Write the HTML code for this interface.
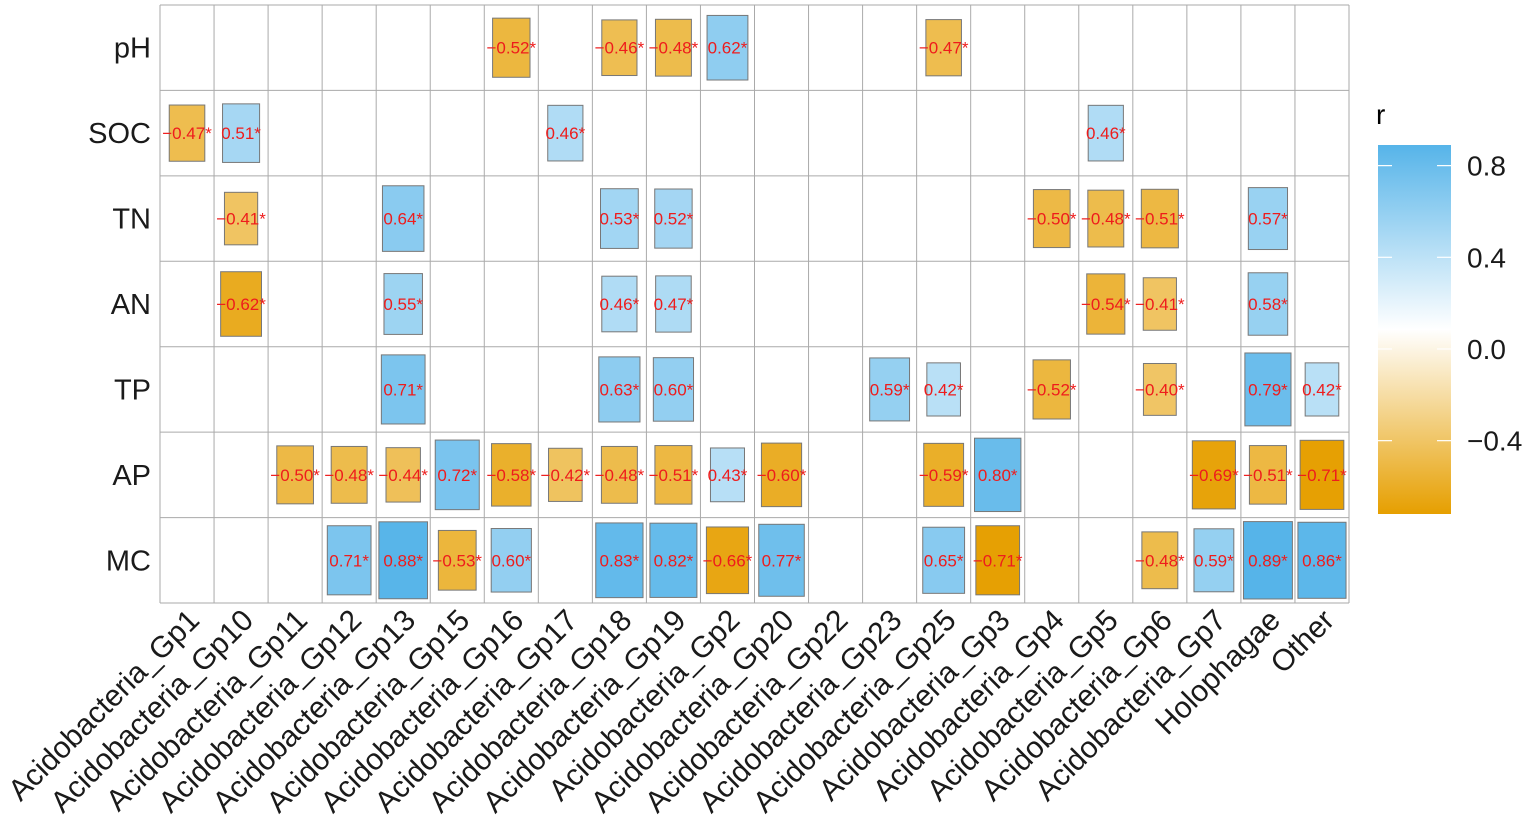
<!DOCTYPE html>
<html><head><meta charset="utf-8"><style>
body{margin:0;background:#fff;}
svg{display:block;font-family:"Liberation Sans",Arial,sans-serif;}
</style></head><body>
<svg id="chart" width="1535" height="834">
<defs><linearGradient id="cbar" x1="0" y1="1" x2="0" y2="0">
<stop offset="0" stop-color="#E69F00"/><stop offset="0.5" stop-color="#ffffff"/><stop offset="1" stop-color="#56B4E9"/>
</linearGradient></defs>
<g id="grid"></g>
<g id="cells"></g>
<g id="ylab"></g>
<g id="xlab"></g>
<g>
<text x="1376" y="124" font-size="28">r</text>
<rect x="1378" y="145" width="73" height="369" fill="url(#cbar)"/>
<g id="legticks"></g>
</g>
</svg>
<script>
const rows=["pH","SOC","TN","AN","TP","AP","MC"];
const cols=["Acidobacteria_Gp1","Acidobacteria_Gp10","Acidobacteria_Gp11","Acidobacteria_Gp12","Acidobacteria_Gp13","Acidobacteria_Gp15","Acidobacteria_Gp16","Acidobacteria_Gp17","Acidobacteria_Gp18","Acidobacteria_Gp19","Acidobacteria_Gp2","Acidobacteria_Gp20","Acidobacteria_Gp22","Acidobacteria_Gp23","Acidobacteria_Gp25","Acidobacteria_Gp3","Acidobacteria_Gp4","Acidobacteria_Gp5","Acidobacteria_Gp6","Acidobacteria_Gp7","Holophagae","Other"];
const N=null;
const pH =[N,N,N,N,N,N,-0.52,N,-0.46,-0.48,0.62,N,N,N,-0.47,N,N,N,N,N,N,N];
const SOC=[-0.47,0.51,N,N,N,N,N,0.46,N,N,N,N,N,N,N,N,N,0.46,N,N,N,N];
const TN =[N,-0.41,N,N,0.64,N,N,N,0.53,0.52,N,N,N,N,N,N,-0.50,-0.48,-0.51,N,0.57,N];
const AN =[N,-0.62,N,N,0.55,N,N,N,0.46,0.47,N,N,N,N,N,N,N,-0.54,-0.41,N,0.58,N];
const TP =[N,N,N,N,0.71,N,N,N,0.63,0.60,N,N,N,0.59,0.42,N,-0.52,N,-0.40,N,0.79,0.42];
const AP =[N,N,-0.50,-0.48,-0.44,0.72,-0.58,-0.42,-0.48,-0.51,0.43,-0.60,N,N,-0.59,0.80,N,N,N,-0.69,-0.51,-0.71];
const MC =[N,N,N,0.71,0.88,-0.53,0.60,N,0.83,0.82,-0.66,0.77,N,N,0.65,-0.71,N,N,-0.48,0.59,0.89,0.86];
const values=[pH,SOC,TN,AN,TP,AP,MC];
const legendTicks=[0.8,0.4,0.0,-0.4];
const rMin=-0.72,rMax=0.89;

const NS="http://www.w3.org/2000/svg";
const L=160,R=1349,T=5,B=603;
const cw=(R-L)/cols.length, rh=(B-T)/rows.length;
const xC=i=>L+cw*(i+0.5), yC=j=>T+rh*(j+0.5);
function mk(tag,attrs,parent){const e=document.createElementNS(NS,tag);for(const k in attrs)e.setAttribute(k,attrs[k]);parent.appendChild(e);return e;}
function lerp(a,b,t){return Math.round(a+(b-a)*t);}
function color(r){let t=(r-rMin)/(rMax-rMin);t=Math.max(0,Math.min(1,t));
 const o=[230,159,0],w=[255,255,255],b=[86,180,233];let c;
 if(t<0.5){const u=t/0.5;c=[0,1,2].map(k=>lerp(o[k],w[k],u));}else{const u=(t-0.5)/0.5;c=[0,1,2].map(k=>lerp(w[k],b[k],u));}
 return `rgb(${c[0]},${c[1]},${c[2]})`;}
const fmt=r=>(r<0?"\u2212":"")+Math.abs(r).toFixed(2)+"*";

const grid=document.getElementById('grid');
for(let i=0;i<=cols.length;i++){const l=mk('line',{x1:L+cw*i,x2:L+cw*i,y1:T,y2:B,stroke:'#aaa','stroke-width':1},grid);
}
for(let j=0;j<=rows.length;j++){const l=mk('line',{x1:L,x2:R,y1:T+rh*j,y2:T+rh*j,stroke:'#aaa','stroke-width':1},grid);
}

const cells=document.getElementById('cells');
values.forEach((row,j)=>row.forEach((r,i)=>{
 if(r===null)return;
 const s=Math.sqrt(Math.abs(r))*0.96;const w=cw*s,h=rh*s;
 const g=mk('g',{},cells);
 
 
 mk('rect',{x:xC(i)-w/2,y:yC(j)-h/2,width:w,height:h,fill:color(r),stroke:'#777','stroke-width':1},g);
 const t=mk('text',{x:xC(i),y:yC(j)+6,'text-anchor':'middle','font-size':17,fill:'#ee1c1c'},g);
 t.textContent=fmt(r);
}));

const yl=document.getElementById('ylab');
rows.forEach((r,j)=>{const t=mk('text',{x:151,y:yC(j)+10,'text-anchor':'end','font-size':29,fill:'#1a1a1a'},yl);
t.textContent=r;});

const xl=document.getElementById('xlab');
cols.forEach((c,i)=>{const x=xC(i)+14,y=622;
const t=mk('text',{x:x,y:y,'text-anchor':'end','font-size':30,fill:'#1a1a1a',transform:`rotate(-45 ${x} ${y})`},xl);
t.textContent=c;});

const lt=document.getElementById('legticks');
const cy=v=>514-(v-rMin)/(rMax-rMin)*369;
legendTicks.forEach(v=>{const y=cy(v);
 mk('line',{x1:1378,x2:1392,y1:y,y2:y,stroke:'#fff','stroke-width':1.2},lt);
 mk('line',{x1:1437,x2:1451,y1:y,y2:y,stroke:'#fff','stroke-width':1.2},lt);
 const t=mk('text',{x:1467,y:y+10,'font-size':28,fill:'#1a1a1a'},lt);
 
 t.textContent=(v<0?"\u2212":"")+Math.abs(v).toFixed(1);});
</script>
</body></html>
